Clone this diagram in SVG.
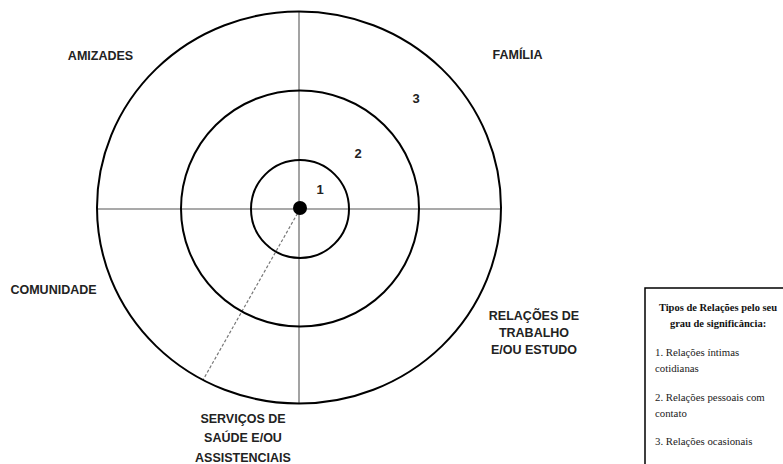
<svg xmlns="http://www.w3.org/2000/svg" width="783" height="464" viewBox="0 0 783 464">
<style>
.ring{fill:none;stroke:#000;stroke-width:2}
.axis{stroke:#8c8c8c;stroke-width:1.6}
.dash{stroke:#777;stroke-width:1.2;stroke-dasharray:3 2;fill:none}
.lbl{font-family:"Liberation Sans",Arial,sans-serif;font-weight:bold;font-size:12.5px;fill:#222}
.num{font-family:"Liberation Sans",Arial,sans-serif;font-weight:bold;font-size:13px;fill:#222}
.lt{font-family:"Liberation Serif","Times New Roman",serif;font-size:10.8px;fill:#222}
.lh{font-family:"Liberation Serif","Times New Roman",serif;font-size:10.5px;font-weight:bold;fill:#111}
</style>
<rect width="783" height="464" fill="#fff"/>
<g id="connectors">
<line class="axis" x1="299" y1="11" x2="299" y2="404"/>
<line class="axis" x1="97" y1="209" x2="501" y2="209"/>
<line class="dash" x1="300" y1="209" x2="203" y2="380"/>
</g>
<g id="ring-outer"><ellipse class="ring" cx="299" cy="207.5" rx="202" ry="196"/><text class="num" x="416" y="103" text-anchor="middle">3</text></g>
<g id="ring-middle"><ellipse class="ring" cx="300" cy="208.5" rx="119" ry="118"/><text class="num" x="358" y="158" text-anchor="middle">2</text></g>
<g id="ring-inner"><circle class="ring" cx="300" cy="209" r="49"/><text class="num" x="320" y="194" text-anchor="middle">1</text></g>
<g id="center"><circle cx="300" cy="208" r="7" fill="#000"/></g>
<g id="amizades"><text class="lbl" x="100.5" y="60" text-anchor="middle">AMIZADES</text></g>
<g id="familia"><text class="lbl" x="517.5" y="59" text-anchor="middle">FAMÍLIA</text></g>
<g id="comunidade"><text class="lbl" x="53.5" y="294" text-anchor="middle">COMUNIDADE</text></g>
<g id="trabalho"><text class="lbl" text-anchor="middle"><tspan x="534" y="320">RELAÇÕES DE</tspan><tspan x="534" y="337">TRABALHO</tspan><tspan x="534" y="354">E/OU ESTUDO</tspan></text></g>
<g id="servicos"><text class="lbl" text-anchor="middle"><tspan x="243" y="423">SERVIÇOS DE</tspan><tspan x="243" y="442">SAÚDE E/OU</tspan><tspan x="243" y="462">ASSISTENCIAIS</tspan></text></g>
<g id="legend">
<rect x="645" y="288" width="200" height="200" fill="#fff" stroke="#000" stroke-width="1.5"/>
<text class="lh" text-anchor="middle"><tspan x="718" y="311">Tipos de Relações pelo seu</tspan><tspan x="718" y="327">grau de significância:</tspan></text>
<text class="lt"><tspan x="655" y="356">1. Relações íntimas</tspan><tspan x="655" y="372">cotidianas</tspan><tspan x="655" y="401">2. Relações pessoais com</tspan><tspan x="655" y="417">contato</tspan><tspan x="655" y="445">3. Relações ocasionais</tspan></text>
</g>
</svg>
